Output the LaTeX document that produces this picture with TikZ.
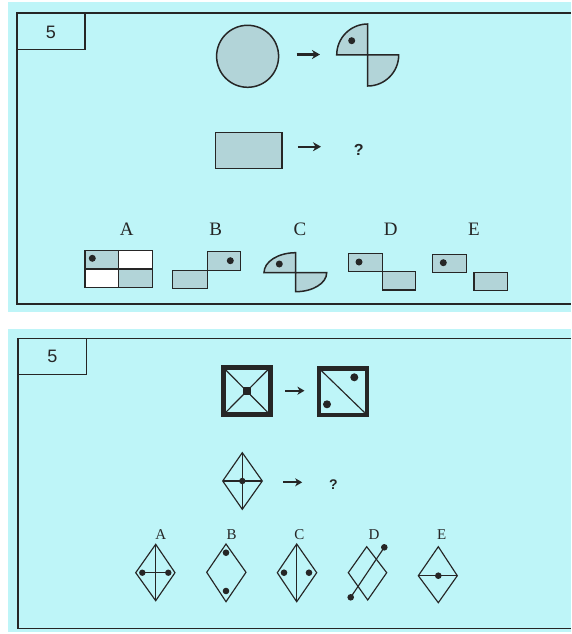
\documentclass[tikz,border=0pt]{standalone}
\usepackage{fontspec}
\setmainfont{Liberation Serif}
\newfontfamily\arialf{Liberation Sans}
\usetikzlibrary{arrows.meta}
\definecolor{bgc}{HTML}{BEF5F8}
\definecolor{shp}{HTML}{B2D4D8}
\definecolor{ink}{HTML}{262626}
\tikzset{
  framel/.style={draw=ink, line width=1.2pt},
  shapeg/.style={draw=ink, fill=shp, line width=1.5pt, line join=miter},
  shapew/.style={draw=ink, fill=white, line width=1.5pt},
  arr/.style={-{Stealth[length=8pt,width=9pt,inset=2.5pt]}, line width=2.2pt, draw=ink},
  arrs/.style={-{Stealth[length=7pt,width=8pt,inset=2pt]}, line width=1.8pt, draw=ink},
  dotf/.style={fill=ink},
  thin/.style={draw=ink, line width=1.15pt, line join=miter},
  lbl/.style={font=\fontsize{19}{19}\selectfont, text=ink, inner sep=0pt},
  lbls/.style={font=\fontsize{15}{15}\selectfont, text=ink, inner sep=0pt},
  num/.style={font=\arialf\fontsize{18}{18}\selectfont, text=ink, inner sep=0pt},
  qm/.style={font=\arialf\bfseries\fontsize{16}{16}\selectfont, text=ink, inner sep=0pt},
  qms/.style={font=\arialf\bfseries\fontsize{14}{14}\selectfont, text=ink, inner sep=0pt}
}
\begin{document}
\begin{tikzpicture}[x=1pt,y=-1pt]
\useasboundingbox (0,0) rectangle (571,634);
\fill[white] (0,0) rectangle (571,634);
% panels
\fill[bgc] (8,2) rectangle (571,312);
\fill[bgc] (8,329) rectangle (571,632);
% ===== top panel =====
\draw[framel] (571,13) -- (17,13) -- (17,304) -- (571,304);
\draw[framel] (17,49.3) -- (85,49.3) -- (85,13);
\node[num] (n1) at (51,32) {5};
% circle -> pac
\draw[shapeg] (247.6,56.3) circle (31);
\draw[arr] (296.7,54.5) -- (320,54.5);
\draw[shapeg] (367.7,55) -- ++(-31,0) arc[start angle=180,end angle=270,radius=31] -- cycle;
\draw[shapeg] (367.7,55) -- ++(31,0) arc[start angle=0,end angle=90,radius=31] -- cycle;
\fill[dotf] (351.7,40.7) circle (3.5);
% rectangle -> ?
\draw[shapeg] (215.6,132.3) rectangle (282.2,168.3);
\draw[arr] (297.9,146.7) -- (321,146.7);
\node[qm] (q1) at (358.7,150) {?};
% labels
\node[lbl] (tA) at (126.7,229) {A};
\node[lbl] (tB) at (215.7,229) {B};
\node[lbl] (tC) at (300,229) {C};
\node[lbl] (tD) at (390.7,229) {D};
\node[lbl] (tE) at (474,229) {E};
% A
\draw[shapeg] (85,250.7) rectangle (118.7,269);
\draw[shapew] (118.7,250.7) rectangle (152.3,269);
\draw[shapew] (85,269) rectangle (118.7,287.3);
\draw[shapeg] (118.7,269) rectangle (152.3,287.3);
\fill[dotf] (92.3,258.3) circle (3.5);
% B
\draw[shapeg] (207.7,251.7) rectangle (240.7,270.7);
\draw[shapeg] (172.7,270.7) rectangle (207.7,288.7);
\fill[dotf] (230.3,260.7) circle (3.5);
% C
\draw[shapeg] (295.7,272.7) -- ++(-31.7,0) arc[start angle=180,end angle=270,x radius=31.7,y radius=20] -- cycle;
\draw[shapeg] (295.7,272.7) -- ++(31,0) arc[start angle=0,end angle=90,x radius=31,y radius=19] -- cycle;
\fill[dotf] (279.3,264) circle (3.5);
% D
\draw[shapeg] (348.3,253.3) rectangle (382.3,271.7);
\draw[shapeg] (382.3,271.7) rectangle (415.7,290);
\fill[dotf] (359,262) circle (3.5);
% E
\draw[shapeg] (432.3,254.3) rectangle (466.7,272.7);
\draw[shapeg] (474,272.3) rectangle (507.3,290.7);
\fill[dotf] (443.3,262.7) circle (3.5);
% ===== bottom panel =====
\draw[framel] (571,338.5) -- (18,338.5) -- (18,628.3) -- (571,628.3);
\draw[framel] (18,374.3) -- (86.3,374.3) -- (86.3,338.5);
\node[num] (n2) at (52.5,356.7) {5};
% square 1
\draw[draw=ink, line width=5pt] (223.3,367.5) rectangle (270.2,414.8);
\draw[thin] (225.8,370) -- (267.7,412.3);
\draw[thin] (267.7,370) -- (225.8,412.3);
\fill[ink] (242.7,387.2) rectangle (250.7,395.2);
\draw[arrs] (285,390.7) -- (304.5,390.7);
% square 2
\draw[draw=ink, line width=4.6pt] (319,368.3) rectangle (367,415);
\draw[thin] (321.3,370.6) -- (364.7,412.7);
\fill[dotf] (354.3,377.3) circle (4);
\fill[dotf] (327,404.3) circle (4);
% diamond example
\draw[thin] (242.3,452.7) -- (262.3,481) -- (242.3,509.3) -- (222.7,481) -- cycle;
\draw[thin] (242.3,452.7) -- (242.3,509.3);
\draw[thin] (222.7,481) -- (262.3,481);
\fill[dotf] (242.3,481) circle (3.2);
\draw[arrs] (283.3,482.3) -- (302.2,482.3);
\node[qms] (q2) at (333.3,485) {?};
% labels
\node[lbls] (bA) at (160.7,535) {A};
\node[lbls] (bB) at (231.7,535) {B};
\node[lbls] (bC) at (299.3,535) {C};
\node[lbls] (bD) at (374,535) {D};
\node[lbls] (bE) at (441.7,535) {E};
% A
\draw[thin] (155.7,544.3) -- (175,572.7) -- (155.7,600.7) -- (135.7,572.7) -- cycle;
\draw[thin] (155.7,544.3) -- (155.7,600.7);
\draw[thin] (142.3,572.7) -- (168.3,572.7);
\fill[dotf] (142.3,572.7) circle (3.2);
\fill[dotf] (168.3,572.7) circle (3.2);
% B
\draw[thin] (226,544) -- (246,572.3) -- (226,601.7) -- (206.7,572.3) -- cycle;
\fill[dotf] (226,552.7) circle (3.3);
\fill[dotf] (226,591) circle (3.3);
% C
\draw[thin] (296.7,544) -- (316.7,572.7) -- (296.7,601.7) -- (277.3,572.7) -- cycle;
\draw[thin] (296.7,544) -- (296.7,601.7);
\fill[dotf] (284,572.7) circle (3.3);
\fill[dotf] (309,572.7) circle (3.3);
% D
\draw[thin] (366.7,546.7) -- (386.7,572.7) -- (367.7,600) -- (348.3,572.7) -- cycle;
\draw[thin] (350.7,597.3) -- (384.3,547.3);
\fill[dotf] (350.7,597.3) circle (3.3);
\fill[dotf] (384.3,547.3) circle (3.3);
% E
\draw[thin] (438.3,546.7) -- (457.3,575.7) -- (438.3,602.7) -- (418.3,575.7) -- cycle;
\draw[thin] (418.3,575.7) -- (457.3,575.7);
\fill[dotf] (438.3,575.7) circle (3.3);
\end{tikzpicture}
\end{document}
